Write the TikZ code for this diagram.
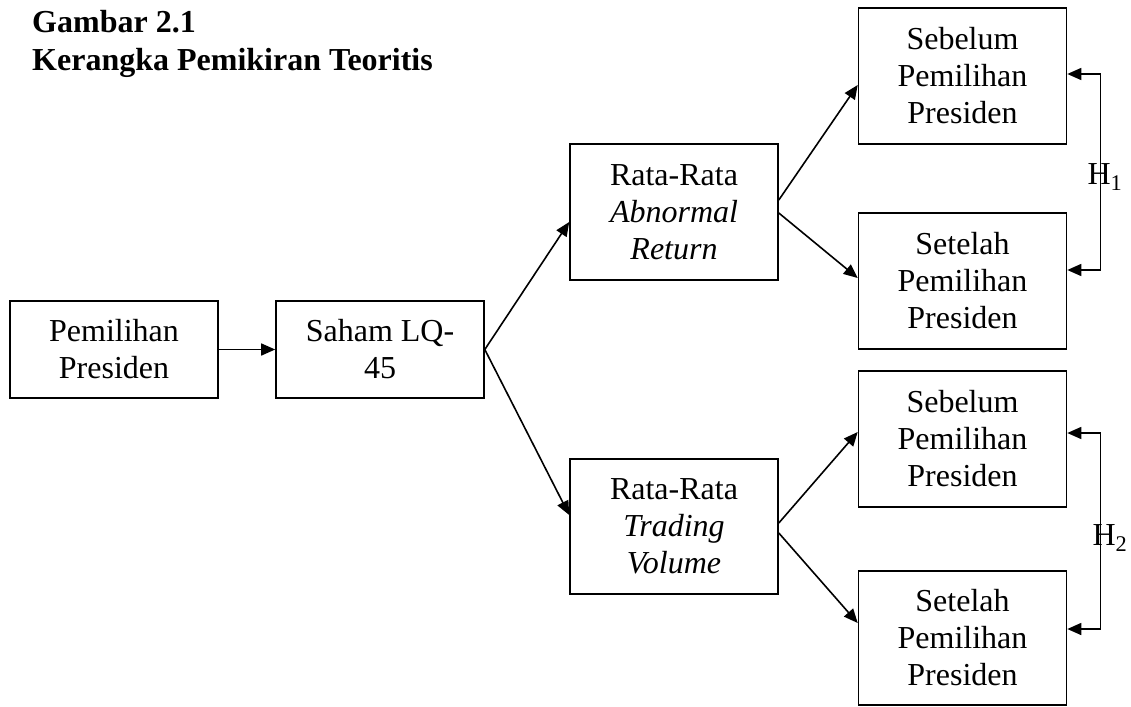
\documentclass[tikz,border=0pt]{standalone}
\usepackage{fontspec}
\setmainfont{Liberation Serif}
\usetikzlibrary{arrows.meta}
\begin{document}
\begin{tikzpicture}[x=1pt,y=-1pt,
  every node/.style={inner sep=0pt, font=\fontsize{32}{37}\selectfont},
  boxnode/.style={draw, line width=1.6pt, minimum width=208pt, align=center},
  arr/.style={line width=1.6pt, -{Triangle[length=14pt,width=12pt]}},
  barr/.style={line width=1.6pt, {Triangle[length=14pt,width=12pt]}-{Triangle[length=14pt,width=12pt]}},
  titlenode/.style={anchor=base west, font=\fontsize{32}{37}\selectfont\bfseries}]
\useasboundingbox (0,0) rectangle (1131,706);
\node[titlenode] (t1) at (32,33) {Gambar 2.1};
\node[titlenode] (t2) at (32,71) {Kerangka Pemikiran Teoritis};
\node[boxnode, minimum height=97pt] (pem) at (114,349.5) {Pemilihan\\Presiden};
\node[boxnode, minimum height=97pt] (sah) at (380,349.5) {Saham LQ-\\45};
\node[boxnode, minimum height=136pt] (r1) at (674,212) {Rata-Rata\\\textit{Abnormal}\\\textit{Return}};
\node[boxnode, minimum height=135pt] (r2) at (674,526.5) {Rata-Rata\\\textit{Trading}\\\textit{Volume}};
\node[boxnode, minimum height=136pt] (s1) at (962.5,76) {Sebelum\\Pemilihan\\Presiden};
\node[boxnode, minimum height=136pt] (s2) at (962.5,281) {Setelah\\Pemilihan\\Presiden};
\node[boxnode, minimum height=136pt] (s3) at (962.5,439) {Sebelum\\Pemilihan\\Presiden};
\node[boxnode, minimum height=134pt] (s4) at (962.5,638) {Setelah\\Pemilihan\\Presiden};
\draw[arr] (pem.east) -- (sah.west);
\draw[arr] (sah.east) -- ([yshift=-10pt]r1.west);
\draw[arr] (sah.east) -- ([yshift=11.5pt]r2.west);
\draw[arr] ([yshift=12pt]r1.east) -- ([yshift=-9pt]s1.west);
\draw[arr] ([yshift=-1pt]r1.east) -- ([yshift=3pt]s2.west);
\draw[arr] ([yshift=3.5pt]r2.east) -- ([yshift=7pt]s3.west);
\draw[arr] ([yshift=-6.5pt]r2.east) -- ([yshift=15pt]s4.west);
\draw[barr] ([yshift=2pt]s1.east) -- ++(33,0) |- ([yshift=11pt]s2.east);
\draw[barr] ([yshift=6pt]s3.east) -- ++(33,0) |- ([yshift=9pt]s4.east);
\node (h1) at (1105,177) {H\textsubscript{1}};
\node (h2) at (1110,538) {H\textsubscript{2}};
\end{tikzpicture}
\end{document}
